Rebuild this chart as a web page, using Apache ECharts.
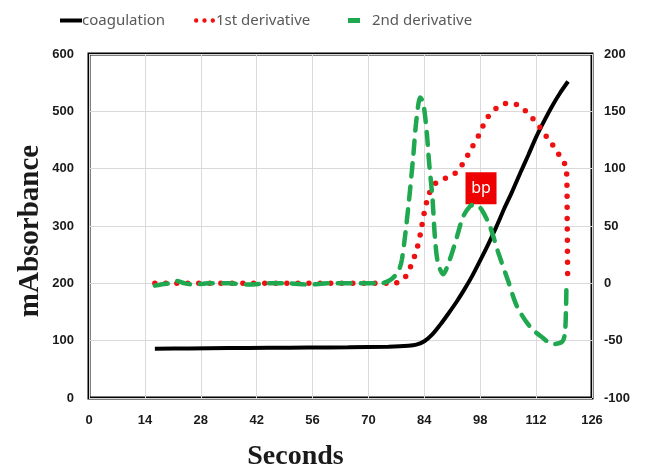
<!DOCTYPE html>
<html>
<head>
<meta charset="utf-8">
<script src="https://cdn.jsdelivr.net/npm/echarts@6/dist/echarts.min.js"></script>
<style>
  html, body { margin: 0; padding: 0; background: #fff; }
  #chart { width: 650px; height: 469px; }
</style>
</head>
<body>
<div id="chart"></div>
<script>
// time (s) / mAbsorbance of the clot curve
const coagT = [16.5, 25, 35, 45, 55, 65, 75, 80, 82, 84, 86, 88, 90, 92, 94, 96, 98, 100, 102, 104, 106, 108, 110, 112, 114, 116, 118, 120];
const coagV = [86, 86.5, 87, 87.5, 88, 88.5, 89.5, 91, 93, 99, 111, 128, 147, 167, 189, 213, 240, 268, 298, 330, 360, 392, 423, 455, 483, 509, 532, 552];

// 1st derivative (right axis)
const d1T = [16.5, 40, 60, 76, 78.6, 80, 81, 82, 83, 84, 85.2, 86.7, 88.9, 91.4, 93.2, 94.6, 96, 97.2, 98.4, 99.7, 101.2, 103.4, 106, 108.5, 110.5, 112.2, 113.7, 115.5, 117, 118.5, 119.6, 119.8, 119.9];
const d1V = [0, 0, 0, 0, 3, 10, 19, 28, 43, 62, 78, 87, 91, 95, 102, 110, 119, 126, 135, 144, 150, 156, 157, 153, 146, 140, 132, 124, 116, 108, 100, 50, 2];

// 2nd derivative (right axis)
const d2T = [16.5, 18, 20, 22, 24, 26, 30, 35, 40, 45, 50, 55, 60, 65, 70, 73, 75.5, 77.4, 78.4, 80, 81.2, 82, 83, 83.7, 84.6, 85.2, 86, 86.7, 87.4, 88.7, 90.4, 92.2, 93.7, 95.4, 96.7, 98.4, 100.5, 102.5, 105, 107.2, 110.5, 113.5, 116.2, 118.5, 119.2, 119.5, 119.6];
const d2V = [-2, -1, 0, 2, 0, -1, 0, 0, -1, 0, 0, -1, 0, 0, 0, 0, 3, 10, 21, 67, 110, 142, 162, 158, 132, 105, 76, 38, 18, 8, 21, 41, 58, 67, 69, 64, 49, 27, 2, -20, -38, -47, -53, -51, -44, -20, 0];

// break point marker
const bpPoint = [98.2, 83];

const xTicks = { min: 0, max: 126, interval: 14 };
const leftTicks = { min: 0, max: 600, interval: 100 };
const rightTicks = { min: -100, max: 200, interval: 50 };

const zip = (a, b) => a.map((t, i) => [t, b[i]]);

let chart = echarts.init(document.querySelector('#chart'));

const labelStyle = { color: '#1a1a1a', fontWeight: 'bold', fontSize: 13, fontFamily: 'Liberation Sans' };
const legendText = { color: '#595959', fontSize: 15, fontFamily: 'Noto Sans' };

//  one legend per entry, the icons differ in size
const legendOf = (name, left, icon, w, h, gap) => ({
  top: 8,
  left: left,
  icon: icon,
  itemWidth: w,
  itemHeight: h,
  itemStyle: { borderWidth: 0 },
  textStyle: Object.assign({ padding: [0, 0, 0, gap] }, legendText),
  data: [name]
});

chart.setOption({
  animation: false,
  legend: [
    legendOf('coagulation', 55, 'rect', 22, 4, -5),
    legendOf('1st derivative', 189, 'path://M0,2.2a2.2,2.2 0 1,0 4.4,0a2.2,2.2 0 1,0 -4.4,0zM8.4,2.2a2.2,2.2 0 1,0 4.4,0a2.2,2.2 0 1,0 -4.4,0zM16.8,2.2a2.2,2.2 0 1,0 4.4,0a2.2,2.2 0 1,0 -4.4,0z', 21, 4.4, -4),
    legendOf('2nd derivative', 343, 'rect', 12, 5, 7)
  ],
  grid: {
    left: 89, right: 58, top: 54, bottom: 71,
    outerBoundsMode: 'none', containLabel: false,
    show: true, borderColor: '#000', borderWidth: 3
  },
  xAxis: {
    type: 'value',
    min: xTicks.min, max: xTicks.max, interval: xTicks.interval,
    name: 'Seconds',
    nameLocation: 'middle',
    nameGap: 45,
    nameTextStyle: { fontFamily: 'Liberation Serif', fontWeight: 'bold', fontSize: 28, color: '#1a1a1a', padding: [0, 90, 0, 0] },
    axisLine: { show: false },
    axisTick: { show: false },
    axisLabel: Object.assign({ margin: 16 }, labelStyle),
    splitLine: { lineStyle: { color: '#d9d9d9' } }
  },
  yAxis: [{
    type: 'value',
    min: leftTicks.min, max: leftTicks.max, interval: leftTicks.interval,
    name: 'mAbsorbance',
    nameLocation: 'middle',
    nameGap: 44,
    nameMoveOverlap: false,
    nameTextStyle: { fontFamily: 'Liberation Serif', fontWeight: 'bold', fontSize: 29, color: '#1a1a1a', padding: [0, 10, 0, 0] },
    axisLine: { show: false },
    axisTick: { show: false },
    axisLabel: Object.assign({ margin: 15 }, labelStyle),
    splitLine: { lineStyle: { color: '#d9d9d9' } }
  }, {
    type: 'value',
    min: rightTicks.min, max: rightTicks.max, interval: rightTicks.interval,
    axisLine: { show: false },
    axisTick: { show: false },
    axisLabel: Object.assign({ margin: 12 }, labelStyle),
    splitLine: { show: false }
  }],
  series: [{
    name: 'coagulation',
    type: 'line',
    yAxisIndex: 0,
    data: zip(coagT, coagV),
    symbol: 'none',
    smooth: 0.3,
    lineStyle: { color: '#000', width: 4 },
    itemStyle: { color: '#000' },
    z: 3
  }, {
    name: '1st derivative',
    type: 'line',
    yAxisIndex: 1,
    data: zip(d1T, d1V),
    symbol: 'none',
    smooth: 0.3,
    lineStyle: { color: '#ee1111', width: 5.5, type: [0, 11], cap: 'round' },
    itemStyle: { color: '#ee1111' },
    z: 4
  }, {
    name: '2nd derivative',
    type: 'line',
    yAxisIndex: 1,
    data: zip(d2T, d2V),
    symbol: 'none',
    smooth: 0.3,
    lineStyle: { color: '#1fa84f', width: 4.5, type: [13, 10], cap: 'round' },
    itemStyle: { color: '#1fa84f' },
    z: 5,
    markPoint: {
      symbol: 'rect',
      symbolSize: [31, 32],
      itemStyle: { color: '#ee0000' },
      label: { show: true, formatter: 'bp', color: '#fff', fontSize: 16, fontFamily: 'Noto Sans' },
      data: [{ coord: bpPoint }]
    }
  }]
});
</script>
</body>
</html>
